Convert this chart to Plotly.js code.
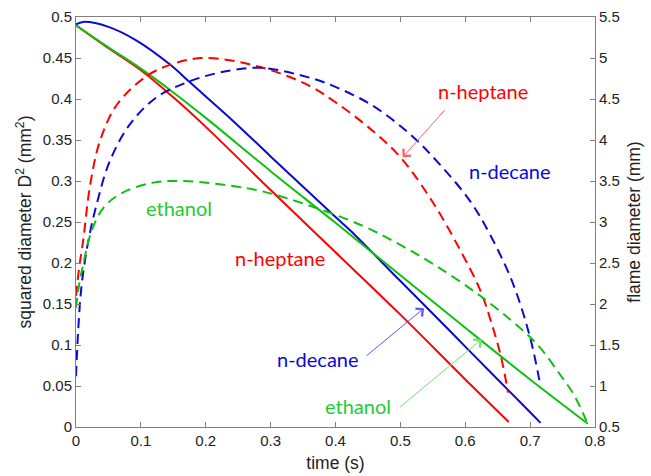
<!DOCTYPE html>
<html>
<head>
<meta charset="utf-8">
<script src="https://cdn.plot.ly/plotly-3.0.1.min.js"></script>
<style>html,body{margin:0;padding:0;background:#fff;}#chart{width:651px;height:476px;}</style>
</head>
<body>
<div id="chart"></div>
<script>
// Squared droplet diameter D^2 (mm^2), left axis
const heptaneT = [0, 0.05, 0.1, 0.15, 0.2, 0.3, 0.4, 0.5, 0.6, 0.667];
const heptaneD2 = [0.490, 0.462, 0.435, 0.402, 0.366, 0.289, 0.213, 0.137, 0.058, 0.006];

const decaneT = [0, 0.011, 0.05, 0.094, 0.145, 0.176, 0.2425, 0.3, 0.4, 0.4224, 0.5, 0.5765, 0.6, 0.7, 0.716];
const decaneD2 = [0.491, 0.494, 0.488, 0.471, 0.442, 0.420, 0.373, 0.330, 0.256, 0.240, 0.178, 0.117, 0.098, 0.018, 0.005];

const ethanolT = [0, 0.05, 0.1, 0.15, 0.2, 0.3, 0.4, 0.5, 0.6, 0.7, 0.789];
const ethanolD2 = [0.490, 0.463, 0.437, 0.408, 0.377, 0.312, 0.249, 0.185, 0.121, 0.058, 0.004];

// Flame diameter (mm), right axis
const heptaneFT = [0, 0.005, 0.011, 0.022, 0.037, 0.063, 0.109, 0.15, 0.2, 0.284, 0.36, 0.4, 0.45, 0.5, 0.55, 0.592, 0.623, 0.640, 0.655, 0.666];
const heptaneFD = [2.1, 2.45, 2.77, 3.46, 3.99, 4.43, 4.78, 4.93, 5.0, 4.89, 4.66, 4.46, 4.16, 3.79, 3.24, 2.66, 2.17, 1.78, 1.36, 0.92];

const decaneFT = [0, 0.0036, 0.0088, 0.019, 0.032, 0.052, 0.083, 0.124, 0.17, 0.22, 0.284, 0.36, 0.39, 0.453, 0.515, 0.561, 0.607, 0.638, 0.674, 0.70, 0.715];
const decaneFD = [1.12, 1.71, 2.24, 2.77, 3.22, 3.74, 4.19, 4.52, 4.70, 4.82, 4.88, 4.76, 4.68, 4.44, 4.07, 3.70, 3.26, 2.85, 2.24, 1.59, 1.04];

const ethanolFT = [0, 0.004, 0.011, 0.024, 0.042, 0.07, 0.119, 0.16, 0.222, 0.284, 0.356, 0.44, 0.5, 0.556, 0.623, 0.684, 0.715, 0.746, 0.767, 0.787];
const ethanolFD = [1.95, 2.2, 2.48, 2.89, 3.17, 3.35, 3.48, 3.50, 3.46, 3.38, 3.21, 2.96, 2.72, 2.46, 2.10, 1.71, 1.47, 1.14, 0.90, 0.57];

const RED = '#ff0000', BLUE = '#0a0ad2', GREEN = '#10c010';
const DASH = '10px,6px';

const traces = [
  {x: heptaneFT, y: heptaneFD, yaxis: 'y2', mode: 'lines', line: {color: RED, width: 2, dash: DASH, shape: 'spline', smoothing: 1}},
  {x: decaneFT, y: decaneFD, yaxis: 'y2', mode: 'lines', line: {color: BLUE, width: 2, dash: DASH, shape: 'spline', smoothing: 1}},
  {x: ethanolFT, y: ethanolFD, yaxis: 'y2', mode: 'lines', line: {color: GREEN, width: 2, dash: DASH, shape: 'spline', smoothing: 1}},
  {x: heptaneT, y: heptaneD2, mode: 'lines', line: {color: RED, width: 2, shape: 'spline', smoothing: 1}},
  {x: decaneT, y: decaneD2, mode: 'lines', line: {color: BLUE, width: 2, shape: 'spline', smoothing: 1}},
  {x: ethanolT, y: ethanolD2, mode: 'lines', line: {color: GREEN, width: 2, shape: 'spline', smoothing: 1}}
];

const TXT = 'Liberation Sans, Arial, sans-serif';
const axisCommon = {
  showline: true, linecolor: '#808080', linewidth: 1,
  ticks: 'inside', ticklen: 5, tickcolor: '#808080',
  showgrid: false, zeroline: false,
  tickfont: {family: TXT, size: 15, color: '#222'}
};
const annFont = (c) => ({family: 'Lato, Open Sans, sans-serif', size: 20, color: c});

const layout = {
  width: 651, height: 476,
  margin: {l: 76, r: 56, t: 17, b: 49},
  paper_bgcolor: '#fff', plot_bgcolor: '#fff',
  showlegend: false,
  xaxis: Object.assign({}, axisCommon, {
    range: [0, 0.8], dtick: 0.1, tick0: 0, mirror: 'ticks',
    title: {text: 'time (s)', font: {family: TXT, size: 17.5, color: '#222'}, standoff: 8}
  }),
  yaxis: Object.assign({}, axisCommon, {
    range: [0, 0.5], dtick: 0.05, tick0: 0,
    title: {text: 'squared diameter D<sup>2</sup> (mm<sup>2</sup>)', font: {family: TXT, size: 17.5, color: '#222'}, standoff: 6}
  }),
  yaxis2: Object.assign({}, axisCommon, {
    range: [0.5, 5.5], dtick: 0.5, tick0: 0.5, overlaying: 'y', side: 'right',
    title: {text: 'flame diameter (mm)', font: {family: TXT, size: 17.5, color: '#222'}, standoff: 8}
  }),
  annotations: [
    {x: 0.627, y: 0.410, xref: 'x', yref: 'y', text: 'n-heptane', showarrow: false, font: annFont(RED)},
    {x: 0.669, y: 0.312, xref: 'x', yref: 'y', text: 'n-decane', showarrow: false, font: annFont(BLUE)},
    {x: 0.158, y: 0.267, xref: 'x', yref: 'y', text: 'ethanol', showarrow: false, font: annFont('#22cc33')},
    {x: 0.3145, y: 0.206, xref: 'x', yref: 'y', text: 'n-heptane', showarrow: false, font: annFont(RED)},
    {x: 0.373, y: 0.083, xref: 'x', yref: 'y', text: 'n-decane', showarrow: false, font: annFont(BLUE)},
    {x: 0.4347, y: 0.0256, xref: 'x', yref: 'y', text: 'ethanol', showarrow: false, font: annFont('#22cc33')},
    {x: 0.5036, y: 0.329, ax: 0.570, ay: 0.388, xref: 'x', yref: 'y', axref: 'x', ayref: 'y', text: '', showarrow: true, arrowhead: 4, arrowsize: 2, arrowwidth: 1, arrowcolor: '#ff6060'},
    {x: 0.5364, y: 0.1448, ax: 0.4455, ay: 0.0854, xref: 'x', yref: 'y', axref: 'x', ayref: 'y', text: '', showarrow: true, arrowhead: 4, arrowsize: 2, arrowwidth: 1, arrowcolor: '#5a5af0'},
    {x: 0.6254, y: 0.107, ax: 0.4968, ay: 0.0226, xref: 'x', yref: 'y', axref: 'x', ayref: 'y', text: '', showarrow: true, arrowhead: 4, arrowsize: 2, arrowwidth: 1, arrowcolor: '#70e070'}
  ]
};

Plotly.newPlot('chart', traces, layout, {displayModeBar: false, staticPlot: true});
</script>
</body>
</html>
